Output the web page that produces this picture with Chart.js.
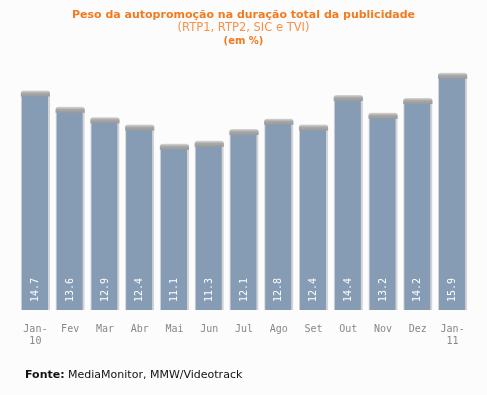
<!DOCTYPE html>
<html>
<head>
<meta charset="utf-8">
<script src="https://cdn.jsdelivr.net/npm/chart.js@4/dist/chart.umd.min.js"></script>
<style>
  html, body { margin: 0; padding: 0; background: #fcfcfc; }
  #wrap { width: 487px; height: 395px; position: relative; }
</style>
</head>
<body>
<div id="wrap"><canvas id="chart"></canvas></div>
<script>
// Chart data
const months = [['Jan-', '10'], 'Fev', 'Mar', 'Abr', 'Mai', 'Jun', 'Jul', 'Ago', 'Set', 'Out', 'Nov', 'Dez', ['Jan-', '11']];
const shares = [14.7, 13.6, 12.9, 12.4, 11.1, 11.3, 12.1, 12.8, 12.4, 14.4, 13.2, 14.2, 15.9];

const titleLines = ['Peso da autopromoção na duração total da publicidade', '(RTP1, RTP2, SIC e TVI)', '(em %)'];
const sourceLabel = 'Fonte:';
const sourceText = ' MediaMonitor, MMW/Videotrack';

// Header, footer, bar caps and value labels
const decorations = {
    id: 'decorations',
    afterDatasetsDraw(chart) {
        const ctx = chart.ctx;
        const meta = chart.getDatasetMeta(0);
        meta.data.forEach(function(bar, i) {
            const w = bar.width;
            const left = bar.x - w / 2;
            // gray cap on top of bar
            const grad = ctx.createLinearGradient(0, bar.y - 2, 0, bar.y + 4);
            grad.addColorStop(0, '#d8d8d8');
            grad.addColorStop(0.45, '#a8a8a8');
            grad.addColorStop(1, '#9a9a9a');
            ctx.save();
            ctx.fillStyle = grad;
            ctx.beginPath();
            ctx.roundRect(left, bar.y - 2, w, 6, [3, 3, 0, 0]);
            ctx.fill();
            ctx.restore();

            // value label
            ctx.save();
            ctx.translate(bar.x, bar.base - 8);
            ctx.rotate(-Math.PI / 2);
            ctx.fillStyle = '#ffffff';
            ctx.font = '10px "DejaVu Sans Mono"';
            ctx.textAlign = 'left';
            ctx.textBaseline = 'middle';
            ctx.fillText(shares[i].toFixed(1), 0, 0);
            ctx.restore();
        });
    },
    afterDraw(chart) {
        const ctx = chart.ctx;
        const cx = chart.width / 2;
        ctx.save();
        ctx.textAlign = 'center';
        ctx.textBaseline = 'middle';
        ctx.fillStyle = '#f47a20';
        ctx.font = 'bold 11px "DejaVu Sans"';
        ctx.fillText(titleLines[0], cx, 15);
        ctx.fillStyle = '#f8924a';
        ctx.font = '11.5px "DejaVu Sans"';
        ctx.fillText(titleLines[1], cx, 28);
        ctx.fillStyle = '#f47a20';
        ctx.font = 'bold 10px "DejaVu Sans"';
        ctx.fillText(titleLines[2], cx, 41);

        // source line
        ctx.textAlign = 'left';
        ctx.fillStyle = '#111111';
        ctx.font = 'bold 11px "DejaVu Sans"';
        ctx.fillText(sourceLabel, 25, 375);
        const lw = ctx.measureText(sourceLabel).width;
        ctx.font = '11px "DejaVu Sans"';
        ctx.fillText(sourceText, 25 + lw, 375);
        ctx.restore();
    }
};

new Chart(document.getElementById('chart').getContext('2d'), {
    type: 'bar',
    data: {
        labels: months,
        datasets: [{
            data: shares,
            backgroundColor: '#869bb4',
            borderColor: '#d4d4d4',
            borderWidth: { left: 1, right: 2, top: 0, bottom: 0 },
            borderSkipped: false,
            barPercentage: 0.84,
            categoryPercentage: 1.0
        }]
    },
    options: {
        responsive: true,
        maintainAspectRatio: false,
        animation: false,
        layout: {
            padding: { top: 60, left: 18, right: 17, bottom: 35 }
        },
        plugins: {
            legend: { display: false },
            tooltip: { enabled: false }
        },
        scales: {
            x: {
                grid: { display: false, drawTicks: false },
                border: { display: false },
                ticks: {
                    color: '#8a8686',
                    font: { family: 'DejaVu Sans Mono', size: 10, lineHeight: 1.2 },
                    padding: 13,
                    maxRotation: 0,
                    autoSkip: false
                }
            },
            y: {
                display: false,
                min: 0,
                max: 16.9
            }
        }
    },
    plugins: [decorations]
});
</script>
</body>
</html>
